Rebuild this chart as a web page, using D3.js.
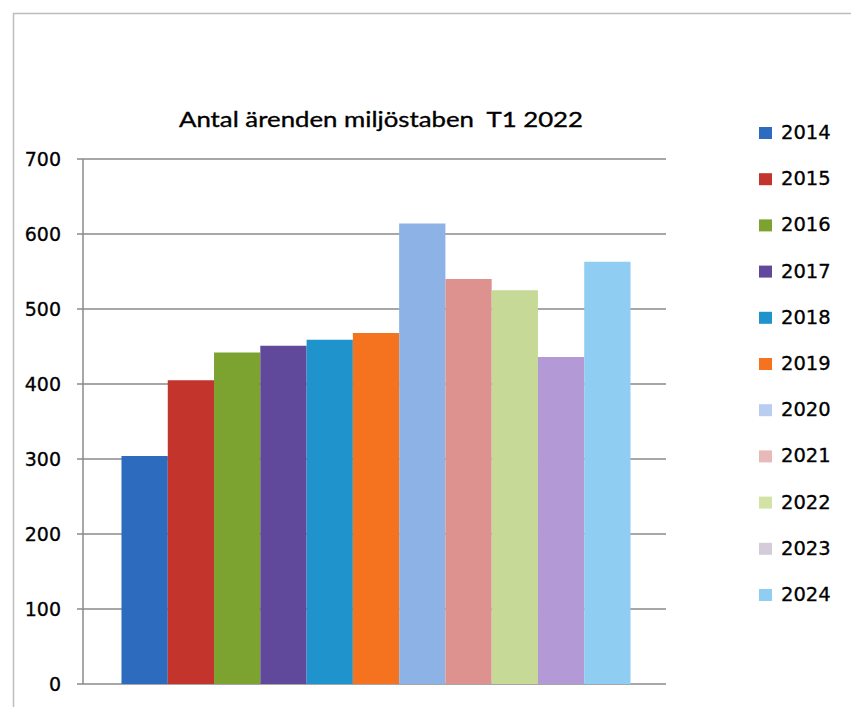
<!DOCTYPE html>
<html><head><meta charset="utf-8">
<script src="https://cdn.jsdelivr.net/npm/d3@7"></script>
<style>body{margin:0;background:#fff}svg{display:block}text{white-space:pre}</style>
</head><body>
<svg id="c" width="851" height="707"></svg>
<script>
const title = "Antal ärenden miljöstaben  T1 2022";
const years = ["2014","2015","2016","2017","2018","2019","2020","2021","2022","2023","2024"];
const values = [304, 405, 442, 451, 459, 468, 614, 540, 525, 436, 563];
const colors = ["#2c6bbd","#c2342c","#7ca22f","#60489a","#1f93cc","#f5731f","#8db3e6","#de9290","#c7d996","#b39ad6","#8fcdf3"];
const legendSwatch = ["#2c6bbd","#c2342c","#7ca22f","#60489a","#1f93cc","#f5731f","#b9cdf0","#e8b9b9","#d3e3a6","#d4ccd8","#8fcdf3"];
const yTicks = [0,100,200,300,400,500,600,700];

const svg = d3.select("#c");
// outer frame
svg.append("line").attr("x1",13).attr("x2",851).attr("y1",13.5).attr("y2",13.5).attr("stroke","#bdbdbd").attr("stroke-width",1.5);
svg.append("line").attr("x1",13.5).attr("x2",13.5).attr("y1",13).attr("y2",707).attr("stroke","#bdbdbd").attr("stroke-width",1.5);

const x = d3.scaleBand().domain(years).range([86,666]).paddingInner(0).paddingOuter(0.767);
const y = d3.scaleLinear().domain([0,700]).range([684,159]);

// gridlines + ticks
const g = svg.append("g");
g.selectAll("line.grid").data(yTicks).join("line")
  .attr("x1",77).attr("x2",666).attr("y1",d=>y(d)).attr("y2",d=>y(d))
  .attr("stroke","#8a8a8a").attr("stroke-width",1.5);
g.append("line").attr("x1",83).attr("x2",83).attr("y1",y(700)).attr("y2",y(0))
  .attr("stroke","#8a8a8a").attr("stroke-width",1.5);

// y labels
svg.append("g").selectAll("text").data(yTicks).join("text")
  .attr("x",61).attr("y",d=>y(d)).attr("dy","0.36em").attr("text-anchor","end")
  .attr("font-family","DejaVu Sans").attr("font-size",19).attr("fill","#000")
  .attr("stroke","#000").attr("stroke-width",0.3)
  .text(d=>d);

// bars
svg.append("g").selectAll("rect").data(years).join("rect")
  .attr("x",d=>x(d)).attr("width",x.bandwidth())
  .attr("y",(d,i)=>y(values[i])).attr("height",(d,i)=>y(0)-y(values[i]))
  .attr("fill",(d,i)=>colors[i]);

// title
svg.append("text").attr("x",179).attr("y",126.5)
  .attr("font-family","Lato").attr("font-size",22).attr("fill","#000")
  .attr("stroke","#000").attr("stroke-width",0.35)
  .attr("textLength",404).attr("lengthAdjust","spacingAndGlyphs")
  .text(title);

// legend
const lg = svg.append("g").selectAll("g").data(years).join("g")
  .attr("transform",(d,i)=>`translate(0,${139 + i*46.2})`);
lg.append("rect").attr("x",759).attr("y",-12).attr("width",13).attr("height",12)
  .attr("fill",(d,i)=>legendSwatch[i]);
lg.append("text").attr("x",781).attr("y",0)
  .attr("font-family","DejaVu Sans").attr("font-size",19.5).attr("fill","#000")
  .attr("stroke","#000").attr("stroke-width",0.3)
  .text(d=>d);
</script>
</body></html>
